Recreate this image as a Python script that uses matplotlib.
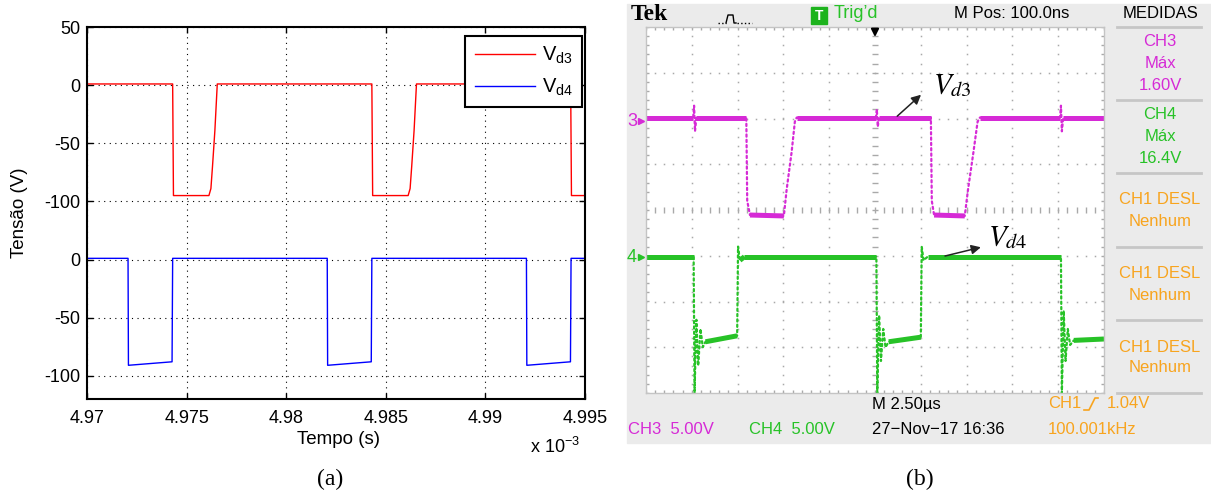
import numpy as np
import matplotlib
matplotlib.use('Agg')
import matplotlib.pyplot as plt
from matplotlib.lines import Line2D
from matplotlib.patches import Rectangle

plt.rcParams['font.family'] = ['Liberation Sans', 'DejaVu Sans']
plt.rcParams['mathtext.fontset'] = 'custom'
plt.rcParams['mathtext.rm'] = 'Liberation Sans'
plt.rcParams['mathtext.it'] = 'Liberation Sans:italic'

# ---- (a) simulation data, time in units of 1e-3 s ----
t_d3 = [4.9700, 4.97430, 4.97434, 4.97612, 4.97622, 4.97630, 4.97642, 4.97654,
        4.98430, 4.98434, 4.98612, 4.98622, 4.98630, 4.98642, 4.98654,
        4.99428, 4.99432, 4.9950]
v_d3 = [1, 1, -95, -95, -89, -70, -39, 1,
        1, -95, -95, -89, -70, -39, 1,
        1, -95, -95]
t_d4 = [4.9700, 4.97206, 4.97208, 4.97427, 4.97430, 4.98206, 4.98208, 4.98427,
        4.98430, 4.99206, 4.99208, 4.99427, 4.99430, 4.9950]
v_d4 = [1, 1, -91, -88, 1, 1, -91, -88, 1, 1, -91, -88, 1, 1]
d4_offset = -150

xticks_a = [4.97, 4.975, 4.98, 4.985, 4.99, 4.995]
xtick_labels_a = ['4.97', '4.975', '4.98', '4.985', '4.99', '4.995']
yticks_a = [50, 0, -50, -100, -150, -200, -250]
ytick_labels_a = ['50', '0', '-50', '-100', '0', '-50', '-100']

# ---- (b) oscilloscope capture, in screen divisions ----
ch3_t = [0.00, 1.03, 1.05, 1.07, 1.10, 2.19, 2.21, 2.27, 3.01, 3.07, 3.18, 3.25, 3.29,
         5.02, 5.04, 5.06, 5.09, 6.22, 6.24, 6.29, 6.96, 7.03, 7.15, 7.24, 7.29,
         9.04, 9.06, 9.08, 9.11, 10.0]
ch3_v = [2.02, 2.02, 2.28, 1.72, 2.02, 2.02, 0.2, -0.11, -0.13, 0.44, 1.27, 1.93, 2.02,
         2.02, 2.2, 1.82, 2.02, 2.02, 0.2, -0.11, -0.13, 0.44, 1.27, 1.93, 2.02,
         2.02, 2.28, 1.72, 2.02, 2.02]
ch4_t = [0.00, 1.04, 1.06, 1.10, 1.14, 1.19, 1.24, 1.30, 1.99, 2.01, 2.05, 2.15,
         5.03, 5.05, 5.09, 5.13, 5.18, 5.23, 5.30, 6.00, 6.02, 6.06, 6.15,
         9.06, 9.08, 9.12, 9.16, 9.21, 9.26, 9.34, 10.0]
ch4_v = [-1.02, -1.02, -4.0, -2.4, -3.4, -2.6, -3.0, -2.88, -2.75, -0.8, -1.1, -1.02,
         -1.02, -4.0, -2.3, -3.3, -2.6, -3.0, -2.88, -2.78, -0.8, -1.1, -1.02,
         -1.02, -4.0, -2.2, -3.3, -2.6, -2.95, -2.85, -2.82]

magenta = '#d62ad6'
green = '#27c227'
orange = '#f8a41e'
medidas = [('CH3', 'Máx', '1.60V', magenta),
           ('CH4', 'Máx', '16.4V', green),
           ('CH1 DESL', 'Nenhum', None, orange),
           ('CH1 DESL', 'Nenhum', None, orange),
           ('CH1 DESL', 'Nenhum', None, orange)]

W, H = 1211, 492
def fx(px):
    return px / W
def fy(py):
    return 1 - py / H

fig = plt.figure(figsize=(W / 100, H / 100), dpi=100)

# ---------------- panel (a) ----------------
ax1 = fig.add_axes([fx(87), fy(399), 498 / W, 372 / H])
ax1.plot(t_d3, v_d3, color='#ff0000', lw=1.0, label=r'V$_{\mathrm{d3}}$')
ax1.plot(t_d4, np.array(v_d4) + d4_offset, color='#0000ff', lw=1.0, label=r'V$_{\mathrm{d4}}$')
ax1.set_xlim(4.97, 4.995)
ax1.set_ylim(-270, 50)
ax1.set_xticks(xticks_a)
ax1.set_xticklabels(xtick_labels_a)
ax1.set_yticks(yticks_a)
ax1.set_yticklabels(ytick_labels_a)
ax1.grid(True, color='k', ls=(0, (1, 4)), lw=0.8)
ax1.tick_params(direction='in', length=4, width=1, top=True, right=True, labelsize=13)
ax1.tick_params(axis='x', pad=8)
ax1.tick_params(axis='y', pad=5)
for s in ax1.spines.values():
    s.set_linewidth(1.5)
ax1.set_xlabel('Tempo (s)', fontsize=13.5)
ax1.set_ylabel('Tensão (V)', fontsize=13.5)
ax1.xaxis.set_label_coords(0.505, -0.085)
ax1.yaxis.set_label_coords(-0.118, 0.5)
ax1.text(0.99, -0.13, r'x 10$^{\mathrm{-3}}$', transform=ax1.transAxes,
         ha='right', va='center', fontsize=13)
leg = ax1.legend(loc='upper right', bbox_to_anchor=(0.994, 0.977), fontsize=14.5,
                 fancybox=False, edgecolor='k', framealpha=1, borderaxespad=0,
                 handlelength=3.0, handletextpad=0.35, labelspacing=0.55, borderpad=0.45)
leg.get_frame().set_linewidth(1.5)
fig.text(fx(330), fy(479), '(a)', family='Liberation Serif', fontsize=17, ha='center', va='center')

# ---------------- panel (b) ----------------
fig.add_artist(Rectangle((fx(627), fy(443)), (W - 627) / W, 439 / H,
                         transform=fig.transFigure, color='#ebebeb', zorder=-5))
ax2 = fig.add_axes([fx(646), fy(393), 458 / W, 366 / H])
ax2.set_xlim(0, 10)
ax2.set_ylim(-4, 4)
ax2.set_xticks([])
ax2.set_yticks([])
for s in ax2.spines.values():
    s.set_color('#c4c4c4')
    s.set_linewidth(1.0)

gcol = '#a9a9a9'
xg = np.arange(0, 10.001, 0.2)
yg = np.arange(-4, 4.001, 0.2)
for gx in range(1, 10):
    if gx != 5:
        ax2.plot(np.full_like(yg, gx), yg, ls='none', marker='s', ms=1.1, mew=0, color=gcol)
for gy in range(-3, 4):
    if gy != 0:
        ax2.plot(xg, np.full_like(xg, gy), ls='none', marker='s', ms=1.1, mew=0, color=gcol)
ax2.plot(xg, np.zeros_like(xg), ls='none', marker='|', ms=5, mew=1.0, color=gcol)
ax2.plot(np.full_like(yg, 5), yg, ls='none', marker='_', ms=5, mew=1.0, color=gcol)
ax2.plot(xg, np.full_like(xg, 4), ls='none', marker='|', ms=5, mew=1.0, color=gcol)
ax2.plot(xg, np.full_like(xg, -4), ls='none', marker='|', ms=5, mew=1.0, color=gcol)
ax2.plot(np.zeros_like(yg), yg, ls='none', marker='_', ms=5, mew=1.0, color=gcol)
ax2.plot(np.full_like(yg, 10), yg, ls='none', marker='_', ms=5, mew=1.0, color=gcol)


def draw_trace(ax, t, v, color):
    t = np.asarray(t)
    v = np.asarray(v)
    ax.plot(t, v, color=color, lw=1.6, ls=(0, (1, 1.4)), dash_capstyle='round')
    for i in range(len(t) - 1):
        if abs(v[i + 1] - v[i]) < 0.2 and t[i + 1] - t[i] > 0.1:
            ax.plot(t[i:i + 2], v[i:i + 2], color=color, lw=3.6, solid_capstyle='butt')


draw_trace(ax2, ch3_t, ch3_v, magenta)
draw_trace(ax2, ch4_t, ch4_v, green)

# channel ground markers
ax2.plot([-0.11], [1.95], marker='>', ms=4, color=magenta, clip_on=False)
ax2.plot([-0.11], [-1.03], marker='>', ms=4, color=green, clip_on=False)
fig.text(fx(632), fy(122), '3', color=magenta, fontsize=13, ha='center', va='center')
fig.text(fx(632), fy(258), '4', color=green, fontsize=13, ha='center', va='center')

# trigger position arrow
ax2.annotate('', xy=(5, 3.72), xytext=(5, 3.99),
             arrowprops=dict(arrowstyle='-|>', color='k', lw=1.5, mutation_scale=11),
             annotation_clip=False)

# waveform labels
ax2.annotate('', xy=(6.05, 2.56), xytext=(5.44, 2.01),
             arrowprops=dict(arrowstyle='-|>', color='#222222', lw=1.1, mutation_scale=14))
ax2.annotate('', xy=(7.37, -0.80), xytext=(6.47, -1.02),
             arrowprops=dict(arrowstyle='-|>', color='#222222', lw=1.1, mutation_scale=14))
ax2.text(6.27, 2.56, r'$V_{d3}$', math_fontfamily='stix', fontsize=21, ha='left', va='baseline')
ax2.text(7.46, -0.77, r'$V_{d4}$', math_fontfamily='stix', fontsize=21, ha='left', va='baseline')

scope_font = ['Liberation Sans Narrow', 'Liberation Sans', 'DejaVu Sans']
sfs = 12

# header
fig.text(fx(649), fy(15), 'Tek', family='Liberation Serif', weight='bold', fontsize=17,
         ha='center', va='center')
fig.add_artist(Line2D([fx(718), fx(726)], [fy(23), fy(23)], color='k', lw=1, ls=':'))
fig.add_artist(Line2D([fx(726), fx(728), fx(733), fx(734), fx(736)],
                      [fy(23), fy(15), fy(15), fy(23), fy(23)], color='k', lw=1))
fig.add_artist(Line2D([fx(737), fx(752)], [fy(23), fy(23)], color='k', lw=1, ls=':'))
fig.add_artist(Rectangle((fx(811), fy(24)), 16 / W, 17 / H, transform=fig.transFigure,
                         color='#1db31d'))
fig.text(fx(819), fy(15.5), 'T', color='white', weight='bold', fontsize=10,
         ha='center', va='center', family=scope_font)
fig.text(fx(834), fy(14), 'Trig\u2019d', color=green, fontsize=13, ha='left', va='center',
         family=scope_font)
fig.text(fx(1012), fy(14), 'M Pos: 100.0ns', color='k', fontsize=sfs, ha='center',
         va='center', family=scope_font)
fig.text(fx(1160), fy(14), 'MEDIDAS', color='k', fontsize=sfs, ha='center', va='center',
         family=scope_font)

# measurement column
sep_y = [27, 100, 173, 247, 320, 393]
for sy in sep_y:
    fig.add_artist(Line2D([fx(1117), fx(1201)], [fy(sy), fy(sy)], color='#c6c6c6', lw=2))
for k, (l1, l2, l3, col) in enumerate(medidas):
    y0 = sep_y[k]
    if l3 is None:
        rows = [(l1, y0 + 27), (l2, y0 + 48)]
    else:
        rows = [(l1, y0 + 14.5), (l2, y0 + 36.5), (l3, y0 + 58.5)]
    for txt, yy in rows:
        fig.text(fx(1160), fy(yy), txt, color=col, fontsize=sfs, ha='center', va='center',
                 family=scope_font)

# footer
fig.text(fx(872), fy(404), 'M 2.50\u00b5s', color='k', fontsize=sfs, ha='left', va='center',
         family=scope_font)
fig.text(fx(1048), fy(404), 'CH1', color=orange, fontsize=sfs, ha='left', va='center',
         family=scope_font)
fig.add_artist(Line2D([fx(1084), fx(1089), fx(1095), fx(1098)],
                      [fy(410), fy(410), fy(398), fy(398)], color=orange, lw=1.2))
fig.text(fx(1107), fy(404), '1.04V', color=orange, fontsize=sfs, ha='left', va='center',
         family=scope_font)
fig.text(fx(628), fy(430), 'CH3  5.00V', color=magenta, fontsize=sfs, ha='left', va='center',
         family=scope_font)
fig.text(fx(749), fy(430), 'CH4  5.00V', color=green, fontsize=sfs, ha='left', va='center',
         family=scope_font)
fig.text(fx(872), fy(430), '27\u2212Nov\u221217 16:36', color='k', fontsize=sfs, ha='left',
         va='center', family=scope_font)
fig.text(fx(1048), fy(430), '100.001kHz', color=orange, fontsize=sfs, ha='left', va='center',
         family=scope_font)

fig.text(fx(920), fy(479), '(b)', family='Liberation Serif', fontsize=17, ha='center',
         va='center')

fig.savefig('out.png', dpi=100)
